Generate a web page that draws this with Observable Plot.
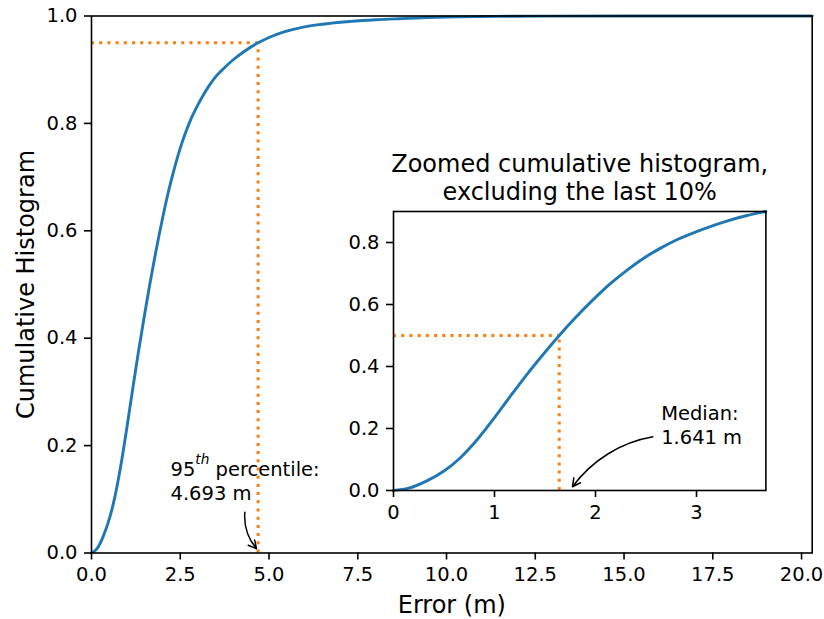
<!DOCTYPE html>
<html>
<head>
<meta charset="utf-8">
<script src="https://cdn.jsdelivr.net/npm/d3@7"></script>
<script src="https://cdn.jsdelivr.net/npm/@observablehq/plot@0.6"></script>
<style>
  html, body { margin: 0; padding: 0; background: white; }
  #wrap { position: relative; width: 824px; height: 619px; font-family: "DejaVu Sans", sans-serif; }
  #inset { position: absolute; }
</style>
</head>
<body>
<div id="wrap"><div id="main"></div><div id="inset"></div></div>
<script>
// ---- data ----
const errX = [0, 0.15, 0.33, 0.5, 0.66, 0.8, 1.0, 1.15, 1.32, 1.5, 1.641, 1.8, 2.0, 2.15, 2.31, 2.5, 2.64, 2.8, 3.0, 3.15, 3.3, 3.5, 3.687, 4.0, 4.3, 4.693, 5.0, 5.4, 5.9, 6.4, 7.3, 8.0, 8.7, 10, 11, 12, 15, 20.3];
const cumY = [0, 0.0075, 0.031, 0.063, 0.105, 0.153, 0.235, 0.301, 0.374, 0.446, 0.5, 0.557, 0.623, 0.668, 0.71, 0.754, 0.781, 0.808, 0.835, 0.853, 0.869, 0.887, 0.9, 0.919, 0.934, 0.95, 0.96, 0.97, 0.9785, 0.984, 0.99, 0.993, 0.995, 0.998, 0.999, 0.9996, 1, 1];
const mainXTicks = [0, 2.5, 5, 7.5, 10, 12.5, 15, 17.5, 20];
const mainYTicks = [0, 0.2, 0.4, 0.6, 0.8, 1.0];
const insetXTicks = [0, 1, 2, 3];
const insetYTicks = [0, 0.2, 0.4, 0.6, 0.8];
const p95 = [{x: 4.693, y: 0.95}];
const p50 = [{x: 1.641, y: 0.5}];
const mainNote = [{text: "95th percentile:\n4.693 m", x: 2.225, y: 0.0978}];
const mainArrow = [{x1: 4.318, y1: 0.076, x2: 4.648, y2: 0.008}];
const insetNote = [{text: "Median:\n1.641 m", x: 2.65, y: 0.1506}];
const insetArrow = [{x1: 2.568, y1: 0.173, x2: 1.772, y2: 0.012}];
const insetTitle = "Zoomed cumulative histogram,\nexcluding the last 10%";

const data = errX.map((x, i) => ({x, y: cumY[i]}));
const insetData = data.filter(d => d.x <= 3.687);

const BLUE = "#1f77b4", ORANGE = "#ff7f0e";
const dots = {stroke: ORANGE, strokeWidth: 3, strokeDasharray: "3,5.2"};
const fmt1 = d3.format(".1f");

const main = Plot.plot({
  width: 824, height: 619,
  marginLeft: 91, marginRight: 12.3, marginTop: 15.5, marginBottom: 66.5,
  style: {fontFamily: "DejaVu Sans", fontSize: "19.5px", color: "black", background: "white"},
  x: {domain: [0, 20.3]},
  y: {domain: [0, 1]},
  marks: [
    Plot.ruleY(p95, {y: "y", x1: 0, x2: "x", ...dots}),
    Plot.ruleX(p95, {x: "x", y1: 0, y2: "y", ...dots}),
    Plot.line(data, {x: "x", y: "y", stroke: BLUE, strokeWidth: 2.9, curve: "monotone-x"}),
    Plot.frame({stroke: "black", strokeWidth: 1.6}),
    Plot.axisX({ticks: mainXTicks, tickFormat: fmt1, tickSize: 7, tickPadding: 7.5, strokeWidth: 1.6, label: null}),
    Plot.axisY({ticks: mainYTicks, tickFormat: fmt1, tickSize: 7, tickPadding: 7, strokeWidth: 1.6, label: null}),
    Plot.text(["Error (m)"], {frameAnchor: "bottom", dy: 59.5, lineAnchor: "bottom", fontSize: 24, fill: "black"}),
    Plot.text(["Cumulative Histogram"], {frameAnchor: "left", dx: -58, rotate: -90, textAnchor: "middle", lineAnchor: "bottom", fontSize: 24, fill: "black"}),
    Plot.text(mainNote, {x: "x", y: "y", text: "text", textAnchor: "start", lineAnchor: "bottom", lineHeight: 1.28, fontSize: 19.5, fill: "black"}),
    Plot.arrow(mainArrow, {x1: "x1", y1: "y1", x2: "x2", y2: "y2", bend: -22, stroke: "black", strokeWidth: 1.5, headLength: 9, headAngle: 55})
  ]
});
document.getElementById("main").append(main);

// superscript "th"
main.querySelectorAll("tspan, text").forEach(el => {
  if (el.children.length === 0 && el.textContent === "95th percentile:") {
    const ns = "http://www.w3.org/2000/svg";
    el.textContent = "95";
    const sup = document.createElementNS(ns, "tspan");
    sup.setAttribute("dy", "-12");
    sup.setAttribute("font-size", "13.7");
    sup.setAttribute("font-style", "italic");
    sup.textContent = "th";
    const rest = document.createElementNS(ns, "tspan");
    rest.setAttribute("dy", "12");
    rest.textContent = " percentile:";
    el.append(sup, rest);
  }
});

const iML = 60, iMT = 75, iMR = 10, iMB = 40;
const iW = 372.4, iH = 279;
const inset = Plot.plot({
  width: iML + iW + iMR, height: iMT + iH + iMB,
  marginLeft: iML, marginRight: iMR, marginTop: iMT, marginBottom: iMB,
  style: {fontFamily: "DejaVu Sans", fontSize: "19.5px", color: "black", background: "transparent"},
  x: {domain: [0, 3.687]},
  y: {domain: [0, 0.9]},
  marks: [
    Plot.frame({fill: "white"}),
    Plot.ruleY(p50, {y: "y", x1: 0, x2: "x", ...dots}),
    Plot.ruleX(p50, {x: "x", y1: 0, y2: "y", ...dots}),
    Plot.line(insetData, {x: "x", y: "y", stroke: BLUE, strokeWidth: 2.9, curve: "monotone-x"}),
    Plot.frame({stroke: "black", strokeWidth: 1.6}),
    Plot.axisX({ticks: insetXTicks, tickFormat: d3.format("d"), tickSize: 7, tickPadding: 7.5, strokeWidth: 1.6, label: null}),
    Plot.axisY({ticks: insetYTicks, tickFormat: fmt1, tickSize: 7, tickPadding: 7, strokeWidth: 1.6, label: null}),
    Plot.text([insetTitle], {frameAnchor: "top", dy: -11.4, lineAnchor: "bottom", lineHeight: 1.16, fontSize: 24, fill: "black"}),
    Plot.text(insetNote, {x: "x", y: "y", text: "text", textAnchor: "start", lineAnchor: "bottom", lineHeight: 1.2, fontSize: 19.5, fill: "black"}),
    Plot.arrow(insetArrow, {x1: "x1", y1: "y1", x2: "x2", y2: "y2", bend: -22, stroke: "black", strokeWidth: 1.5, headLength: 9, headAngle: 55})
  ]
});
const insetDiv = document.getElementById("inset");
insetDiv.style.left = (393.3 - iML) + "px";
insetDiv.style.top = (210.7 - iMT) + "px";
insetDiv.append(inset);
</script>
</body>
</html>
